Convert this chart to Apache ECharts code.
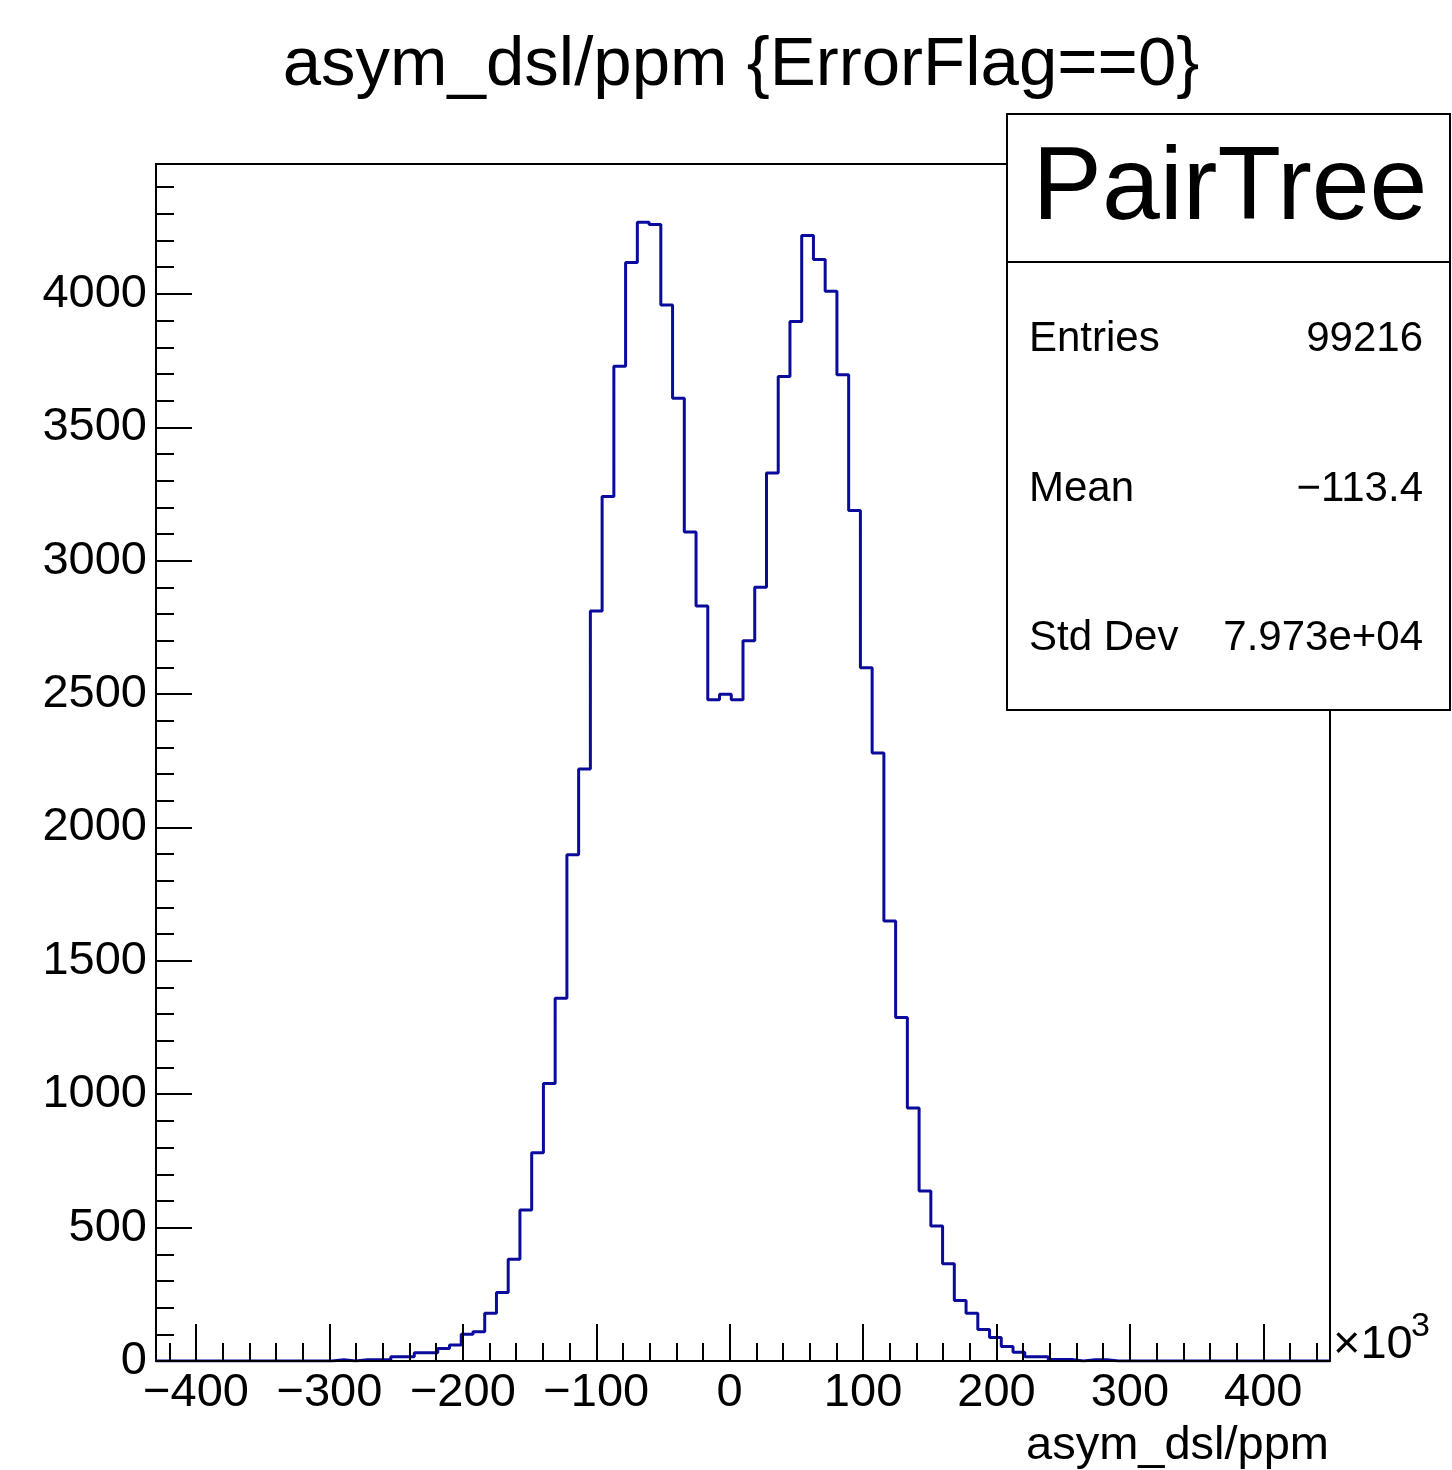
<!DOCTYPE html>
<html><head><meta charset="utf-8">
<script src="https://cdn.jsdelivr.net/npm/echarts@6/dist/echarts.min.js"></script>
<style>html,body{margin:0;padding:0;background:#fff}#c{width:1452px;height:1470px}</style>
</head><body><div id="c"></div>
<script>
// Histogram definition (x in units of 10^3 ppm)
const histMin = -430;
const histMax = 450;
const nBins = 100;
const counts = [
  0,0,0,0,0,0,0,0,0,0,
  0,0,0,0,0,5,0,5,5,5,
  16,16,31,31,47,60,100,110,179,257,
  381,566,781,1040,1360,1898,2219,2811,3241,3729,
  4118,4269,4260,3958,3609,3108,2830,2479,2499,2479,
  2700,2900,3329,3690,3897,4219,4129,4010,3697,3188,
  2599,2279,1649,1288,948,637,506,365,227,179,
  118,88,54,33,16,16,6,6,0,5,
  5,0,0,0,0,0,0,0,0,0,
  0,0,0,0,0,0,0,0,0,0
];
const yMin = 0;
const yMax = 4487;
const xMajorTicks = [-400,-300,-200,-100,0,100,200,300,400];
const xMinorTicks = [-420,-400,-380,-360,-340,-320,-300,-280,-260,-240,-220,-200,-180,-160,-140,-120,-100,-80,-60,-40,-20,0,20,40,60,80,100,120,140,160,180,200,220,240,260,280,300,320,340,360,380,400,420,440];
const yMajorTicks = [0,500,1000,1500,2000,2500,3000,3500,4000];
const yMinorTicks = [0,100,200,300,400,500,600,700,800,900,1000,1100,1200,1300,1400,1500,1600,1700,1800,1900,2000,2100,2200,2300,2400,2500,2600,2700,2800,2900,3000,3100,3200,3300,3400,3500,3600,3700,3800,3900,4000,4100,4200,4300,4400];
const titleText = 'asym_dsl/ppm {ErrorFlag==0}';
const xAxisTitle = 'asym_dsl/ppm';
const statsName = 'PairTree';
const statsLabels = ['Entries', 'Mean', 'Std Dev'];
const statsValues = ['99216', '\u2212113.4', '7.973e+04'];

const FONT = 'Liberation Sans, Arial, Helvetica, sans-serif';
const binW = (histMax - histMin) / nBins;
const stepData = counts.map((c, k) => [histMin + k * binW, c]);
stepData.push([histMax, counts[nBins - 1]]);

const chart = echarts.init(document.getElementById('c'), null, {renderer: 'canvas'});
const blk = '#000';
function minusFmt(v) { return String(v).replace('-', '\u2212'); }
function plainFmt(v) { return String(v); }

chart.setOption({
  animation: false,
  backgroundColor: '#fff',
  grid: {left: 156, top: 164, width: 1174, height: 1197, show: true, borderColor: blk, borderWidth: 2, backgroundColor: 'transparent'},
  xAxis: [
    {type: 'value', min: histMin, max: histMax, position: 'bottom', z: 5,
     axisLine: {show: true, onZero: false, lineStyle: {color: blk, width: 2}},
     axisTick: {show: true, inside: true, length: 37, customValues: xMajorTicks, lineStyle: {color: blk, width: 2}},
     axisLabel: {show: true, customValues: xMajorTicks, formatter: minusFmt, fontSize: 47, color: blk, fontFamily: FONT, margin: 9},
     splitLine: {show: false}},
    {type: 'value', min: histMin, max: histMax, position: 'bottom', z: 5,
     axisLine: {show: false, onZero: false},
     axisTick: {show: true, inside: true, length: 18, customValues: xMinorTicks, lineStyle: {color: blk, width: 2}},
     axisLabel: {show: false}, splitLine: {show: false}}
  ],
  yAxis: [
    {type: 'value', min: yMin, max: yMax, position: 'left', z: 5,
     axisLine: {show: true, onZero: false, lineStyle: {color: blk, width: 2}},
     axisTick: {show: true, inside: true, length: 36, customValues: yMajorTicks, lineStyle: {color: blk, width: 2}},
     axisLabel: {show: true, customValues: yMajorTicks, formatter: plainFmt, fontSize: 47, color: blk, fontFamily: FONT, margin: 9},
     splitLine: {show: false}},
    {type: 'value', min: yMin, max: yMax, position: 'left', z: 5,
     axisLine: {show: false, onZero: false},
     axisTick: {show: true, inside: true, length: 18, customValues: yMinorTicks, lineStyle: {color: blk, width: 2}},
     axisLabel: {show: false}, splitLine: {show: false}}
  ],
  series: [{
    type: 'line', xAxisIndex: 0, yAxisIndex: 0, step: 'end', symbol: 'none', z: 2,
    data: stepData,
    lineStyle: {color: '#0a0a9c', width: 3}
  }],
  graphic: [
    {type: 'text', z: 50, x: 741, y: 66, style: {text: titleText, font: '69px ' + FONT, fill: blk, align: 'center', verticalAlign: 'middle'}},
    {type: 'text', z: 50, x: 1329, y: 1446, style: {text: xAxisTitle, font: '47px ' + FONT, fill: blk, align: 'right', verticalAlign: 'middle'}},
    {type: 'text', z: 50, x: 1333, y: 1345, style: {text: '\u00d710', font: '47px ' + FONT, fill: blk, align: 'left', verticalAlign: 'middle'}},
    {type: 'text', z: 50, x: 1411, y: 1327, style: {text: '3', font: '34px ' + FONT, fill: blk, align: 'left', verticalAlign: 'middle'}},
    {type: 'rect', z: 60, shape: {x: 1007, y: 114, width: 443, height: 596}, style: {fill: '#fff', stroke: blk, lineWidth: 2}},
    {type: 'line', z: 61, shape: {x1: 1007, y1: 262, x2: 1450, y2: 262}, style: {stroke: blk, lineWidth: 2}},
    {type: 'text', z: 62, x: 1230, y: 190, style: {text: statsName, font: '104px ' + FONT, fill: blk, align: 'center', verticalAlign: 'middle'}},
    {type: 'text', z: 62, x: 1029, y: 339, style: {text: statsLabels[0], font: '42px ' + FONT, fill: blk, align: 'left', verticalAlign: 'middle'}},
    {type: 'text', z: 62, x: 1423, y: 339, style: {text: statsValues[0], font: '42px ' + FONT, fill: blk, align: 'right', verticalAlign: 'middle'}},
    {type: 'text', z: 62, x: 1029, y: 489, style: {text: statsLabels[1], font: '42px ' + FONT, fill: blk, align: 'left', verticalAlign: 'middle'}},
    {type: 'text', z: 62, x: 1423, y: 489, style: {text: statsValues[1], font: '42px ' + FONT, fill: blk, align: 'right', verticalAlign: 'middle'}},
    {type: 'text', z: 62, x: 1029, y: 638, style: {text: statsLabels[2], font: '42px ' + FONT, fill: blk, align: 'left', verticalAlign: 'middle'}},
    {type: 'text', z: 62, x: 1423, y: 638, style: {text: statsValues[2], font: '42px ' + FONT, fill: blk, align: 'right', verticalAlign: 'middle'}}
  ]
});
</script></body></html>
